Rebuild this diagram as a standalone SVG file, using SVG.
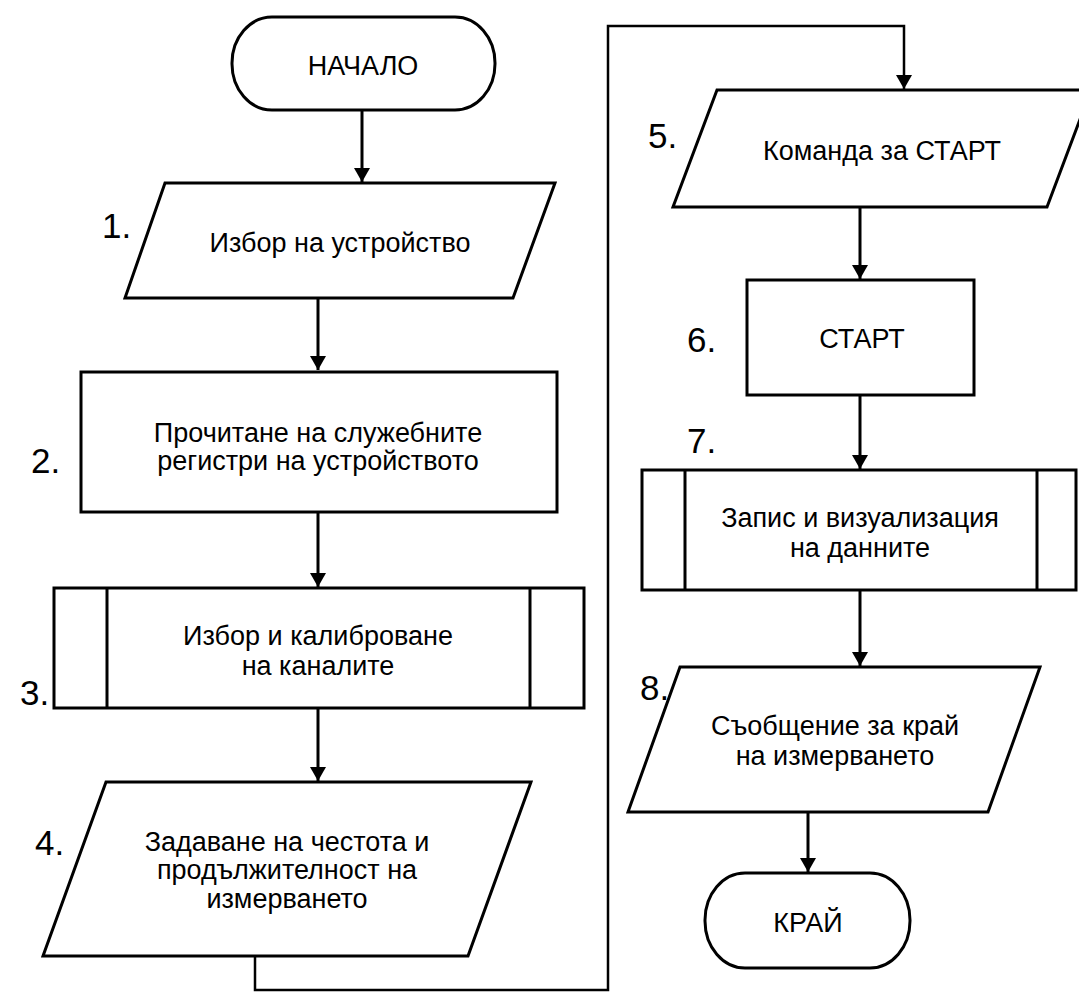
<svg xmlns="http://www.w3.org/2000/svg" width="1079" height="992" viewBox="0 0 1079 992">
<defs>
<marker id="ah" viewBox="0 0 14 16" refX="14" refY="8" markerWidth="14" markerHeight="16" markerUnits="userSpaceOnUse" orient="auto">
<path d="M0,0 L14,8 L0,16 Z" fill="#000"/>
</marker>
<style>
.s{fill:#fff;stroke:#000;stroke-width:3;stroke-linejoin:miter}
.l{fill:none;stroke:#000;stroke-width:3}
.c{fill:none;stroke:#000;stroke-width:2.5}
.t{font-family:"Liberation Sans",Arial,sans-serif;font-size:27px;fill:#000;text-anchor:middle}
.n{font-family:"Liberation Sans",Arial,sans-serif;font-size:35px;fill:#000}
</style>
</defs>
<rect width="1079" height="992" fill="#fff"/>
<g id="connectors">
<path class="l" d="M362,110 V182" marker-end="url(#ah)"/>
<path class="l" d="M318,298 V370" marker-end="url(#ah)"/>
<path class="l" d="M318,512 V587" marker-end="url(#ah)"/>
<path class="l" d="M318,708 V781" marker-end="url(#ah)"/>
<path class="c" d="M255,956 V990 H608 V26 H904 V89" marker-end="url(#ah)"/>
<path class="l" d="M860,207 V279" marker-end="url(#ah)"/>
<path class="l" d="M860,395 V469" marker-end="url(#ah)"/>
<path class="l" d="M860,590 V666" marker-end="url(#ah)"/>
<path class="l" d="M808,812 V872" marker-end="url(#ah)"/>
</g>
<g id="start">
<rect class="s" x="232" y="17" width="263" height="93" rx="40" ry="46"/>
<text class="t" x="363" y="75">НАЧАЛО</text>
</g>
<g id="n1">
<polygon class="s" points="165,183 555,183 513,298 125,298"/>
<text class="t" x="340" y="252">Избор на устройство</text>
<text class="n" x="102" y="238">1.</text>
</g>
<g id="n2">
<rect class="s" x="81" y="372" width="476" height="140"/>
<text class="t" x="318" y="442">Прочитане на служебните</text>
<text class="t" x="318" y="470">регистри на устройството</text>
<text class="n" x="31" y="473">2.</text>
</g>
<g id="n3">
<rect class="s" x="54" y="588" width="530" height="120"/>
<path class="l" d="M107,588 V708 M530,588 V708"/>
<text class="t" x="318" y="645">Избор и калиброване</text>
<text class="t" x="318" y="675">на каналите</text>
<text class="n" x="20" y="705">3.</text>
</g>
<g id="n4">
<polygon class="s" points="106,782 531,782 468,956 43,956"/>
<text class="t" x="287" y="851">Задаване на честота и</text>
<text class="t" x="287" y="879">продължителност на</text>
<text class="t" x="287" y="908">измерването</text>
<text class="n" x="35" y="855">4.</text>
</g>
<g id="n5">
<polygon class="s" points="717,90 1091,90 1047,207 673,207"/>
<text class="t" x="882" y="160">Команда за СТАРТ</text>
<text class="n" x="648" y="148">5.</text>
</g>
<g id="n6">
<rect class="s" x="747" y="280" width="227" height="115"/>
<text class="t" x="862" y="348">СТАРТ</text>
<text class="n" x="687" y="352">6.</text>
</g>
<g id="n7">
<rect class="s" x="642" y="470" width="434" height="120"/>
<path class="l" d="M685,470 V590 M1037,470 V590"/>
<text class="t" x="860" y="527">Запис и визуализация</text>
<text class="t" x="860" y="557">на данните</text>
<text class="n" x="687" y="453">7.</text>
</g>
<g id="n8">
<polygon class="s" points="680,667 1040,667 988,812 628,812"/>
<text class="t" x="835" y="735">Съобщение за край</text>
<text class="t" x="835" y="765">на измерването</text>
<text class="n" x="640" y="700">8.</text>
</g>
<g id="end">
<rect class="s" x="705" y="873" width="205" height="95" rx="40" ry="47"/>
<text class="t" x="808" y="932">КРАЙ</text>
</g>
</svg>
